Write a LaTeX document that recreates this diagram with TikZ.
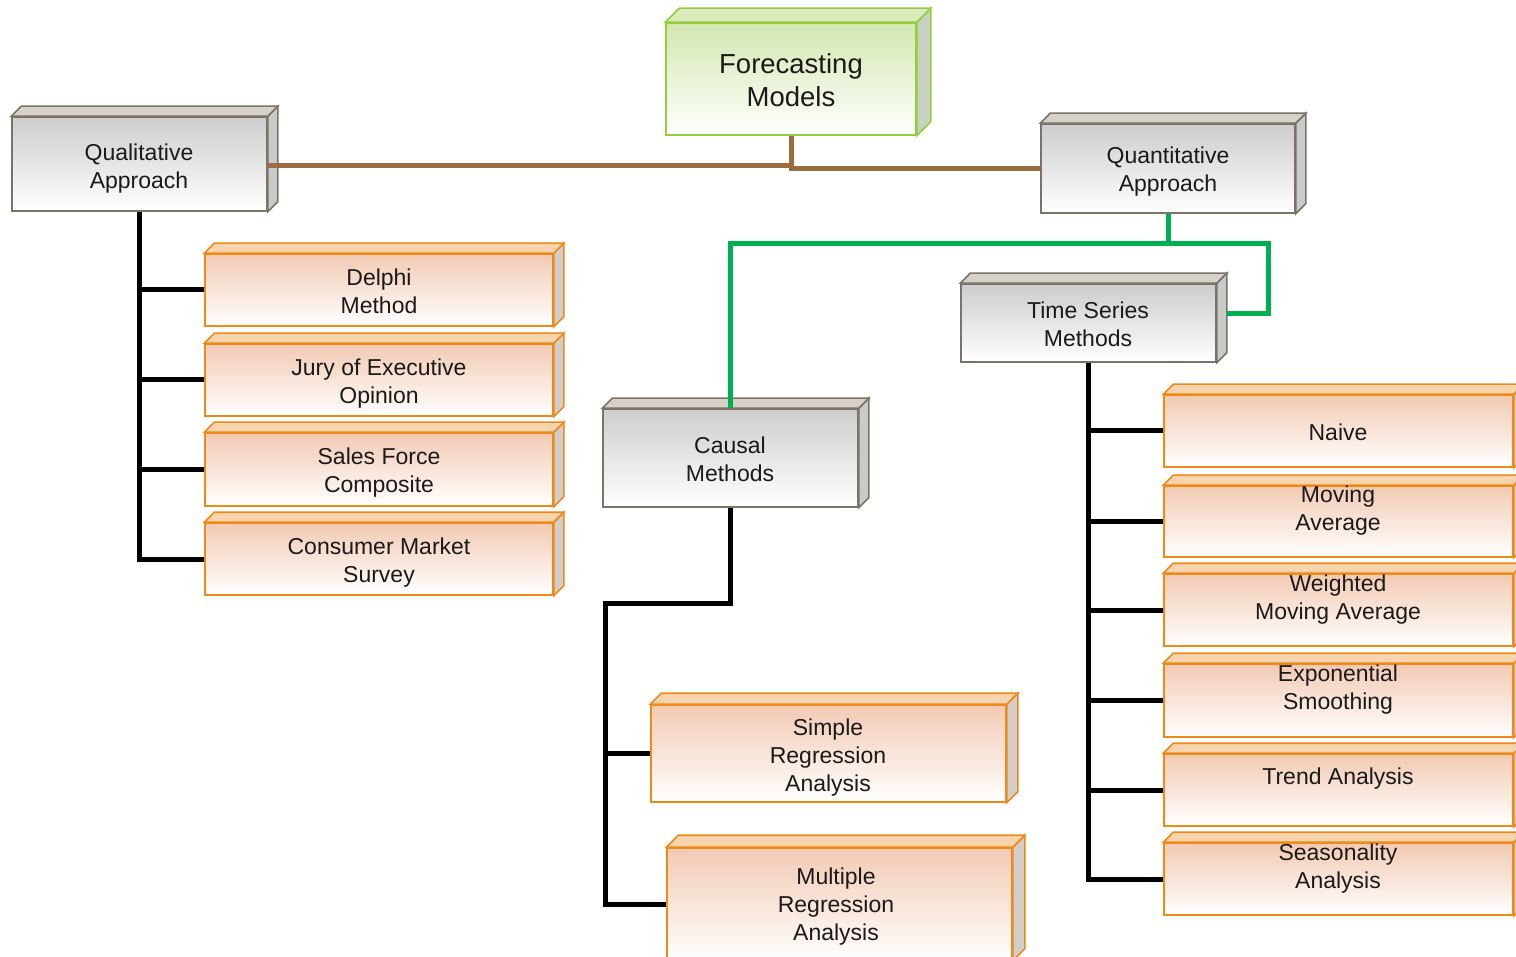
\documentclass[tikz,border=0pt]{standalone}
\usepackage{fontspec}
\setmainfont{Liberation Sans}
\usetikzlibrary{fit}
\definecolor{greyline}{HTML}{7B7366}
\definecolor{greytopf}{HTML}{D6D2CB}
\definecolor{greysidef}{HTML}{CACACA}
\definecolor{greyfrontt}{HTML}{CDCDCD}
\definecolor{orangeline}{HTML}{EE8A1A}
\definecolor{orangetopf}{HTML}{F5D4AE}
\definecolor{orangesidef}{HTML}{D2CDC8}
\definecolor{orangefrontt}{HTML}{F2CAB3}
\definecolor{greenline}{HTML}{92CF3E}
\definecolor{greentopf}{HTML}{DCEBBD}
\definecolor{greensidef}{HTML}{C8D0C0}
\definecolor{greenfrontt}{HTML}{D3E7B0}
\definecolor{brownconn}{HTML}{9C6B3F}
\definecolor{greenconn}{HTML}{00B050}
\definecolor{txt}{HTML}{1A1A1A}
\tikzset{
  cubeface/.style={line width=1.6pt, line join=miter},
  greyfront/.style={cubeface, draw=greyline, top color=greyfrontt, bottom color=white, inner sep=0pt},
  greyside/.style={cubeface, draw=greyline, fill=greysidef},
  greytop/.style={cubeface, draw=greyline, fill=greytopf},
  orangefront/.style={cubeface, draw=orangeline, top color=orangefrontt, bottom color=white, inner sep=0pt},
  orangeside/.style={cubeface, draw=orangeline, fill=orangesidef},
  orangetop/.style={cubeface, draw=orangeline, fill=orangetopf},
  greenfront/.style={cubeface, draw=greenline, top color=greenfrontt, bottom color=white, inner sep=0pt},
  greenside/.style={cubeface, draw=greenline, fill=greensidef},
  greentop/.style={cubeface, draw=greenline, fill=greentopf},
  lbl/.style={align=center, text=txt, inner sep=0pt, font=\fontsize{23}{28}\selectfont},
  biglbl/.style={align=center, text=txt, inner sep=0pt, font=\fontsize{27.5}{33}\selectfont},
  brownln/.style={draw=brownconn, line width=5pt},
  greenln/.style={draw=greenconn, line width=5pt},
  blackln/.style={draw=black, line width=5pt},
}
\newcommand\cubebox[5]{%
  \node[#2front, fit={#3 #4}] (#1) {};
  \filldraw[#2side] (#1.north east) -- ++(#5,-#5) -- ([shift={(#5,-#5)}]#1.south east) -- (#1.south east) -- cycle;
  \filldraw[#2top] (#1.north west) -- ++(#5,-#5) -- ([shift={(#5,-#5)}]#1.north east) -- (#1.north east) -- cycle;
}
\begin{document}
\begin{tikzpicture}[x=1pt,y=-1pt]
\useasboundingbox[fill=white] (0,0) rectangle (1516,957);

% boxes
\cubebox{fm}{green}{(666,23)}{(916,135)}{14}
\cubebox{ql}{grey}{(12,117)}{(267,211)}{10}
\cubebox{qn}{grey}{(1041,124)}{(1295,213)}{10}
\cubebox{ts}{grey}{(961,284)}{(1216,362)}{10}
\cubebox{cm}{grey}{(603,409)}{(858,507)}{10}
\cubebox{dm}{orange}{(205,254)}{(553,326)}{10}
\cubebox{jy}{orange}{(205,344)}{(553,416)}{10}
\cubebox{sf}{orange}{(205,433)}{(553,506)}{10}
\cubebox{cs}{orange}{(205,523)}{(553,595)}{10}
\cubebox{nv}{orange}{(1164,395)}{(1513,467)}{10}
\cubebox{ma}{orange}{(1164,486)}{(1513,557)}{10}
\cubebox{wm}{orange}{(1164,574)}{(1513,646)}{10}
\cubebox{es}{orange}{(1164,664)}{(1513,737)}{10}
\cubebox{ta}{orange}{(1164,754)}{(1513,826)}{10}
\cubebox{sa}{orange}{(1164,843)}{(1513,915)}{10}
\cubebox{sr}{orange}{(651,705)}{(1006,802)}{11}
\cubebox{mr}{orange}{(667,848)}{(1012,960)}{12}

% labels
\node[biglbl] (tfm) at (791,80) {Forecasting\\Models};
\node[lbl] (tql) at (139,169) {Qualitative\\Approach};
\node[lbl] (tqn) at (1168,172) {Quantitative\\Approach};
\node[lbl] (tts) at (1088,324) {Time Series\\Methods};
\node[lbl] (tcm) at (730,459) {Causal\\Methods};
\node[lbl] (tdm) at (379,291) {Delphi\\Method};
\node[lbl] (tjy) at (379,384) {Jury of Executive\\Opinion};
\node[lbl] (tsf) at (379,473) {Sales Force\\Composite};
\node[lbl] (tcs) at (379,563) {Consumer Market\\Survey};
\node[lbl] (tnv) at (1338,432) {Naive};
\node[lbl] (tma) at (1338,511) {Moving\\Average};
\node[lbl] (twm) at (1338,600) {Weighted\\Moving Average};
\node[lbl] (tes) at (1338,690) {Exponential\\Smoothing};
\node[lbl] (tta) at (1338,779) {Trend Analysis};
\node[lbl] (tsa) at (1338,869) {Seasonality\\Analysis};
\node[lbl] (tsr) at (828,758) {Simple\\Regression\\Analysis};
\node[lbl] (tmr) at (836,907) {Multiple\\Regression\\Analysis};

% brown connectors
\draw[brownln] ([yshift=-2pt]ql.east) -- ([yshift=-2pt]ql.east -| fm.south) -- (fm.south);
\draw[brownln] (fm.south) |- (qn.west);

% green connectors
\coordinate (gright) at (1268,244);
\draw[greenln] (qn.south) -- (qn.south |- gright);
\draw[greenln] (cm.north) |- (gright) |- ([xshift=10pt,yshift=9pt]ts.east);

% qualitative tree
\draw[blackln] (ql.south) -- (ql.south |- cs.west) -- (cs.west);
\draw[blackln] (ql.south |- dm.west) -- (dm.west);
\draw[blackln] (ql.south |- jy.west) -- (jy.west);
\draw[blackln] (ql.south |- sf.west) -- (sf.west);

% causal tree
\coordinate (cbend) at (605,603);
\draw[blackln] (cm.south) |- (cbend) |- (mr.west);
\draw[blackln] (cbend |- sr.west) -- (sr.west);

% time series tree
\draw[blackln] (ts.south) -- (ts.south |- sa.west) -- (sa.west);
\draw[blackln] (ts.south |- nv.west) -- (nv.west);
\draw[blackln] (ts.south |- ma.west) -- (ma.west);
\draw[blackln] (ts.south |- wm.west) -- (wm.west);
\draw[blackln] (ts.south |- es.west) -- (es.west);
\draw[blackln] (ts.south |- ta.west) -- (ta.west);
\end{tikzpicture}
\end{document}
